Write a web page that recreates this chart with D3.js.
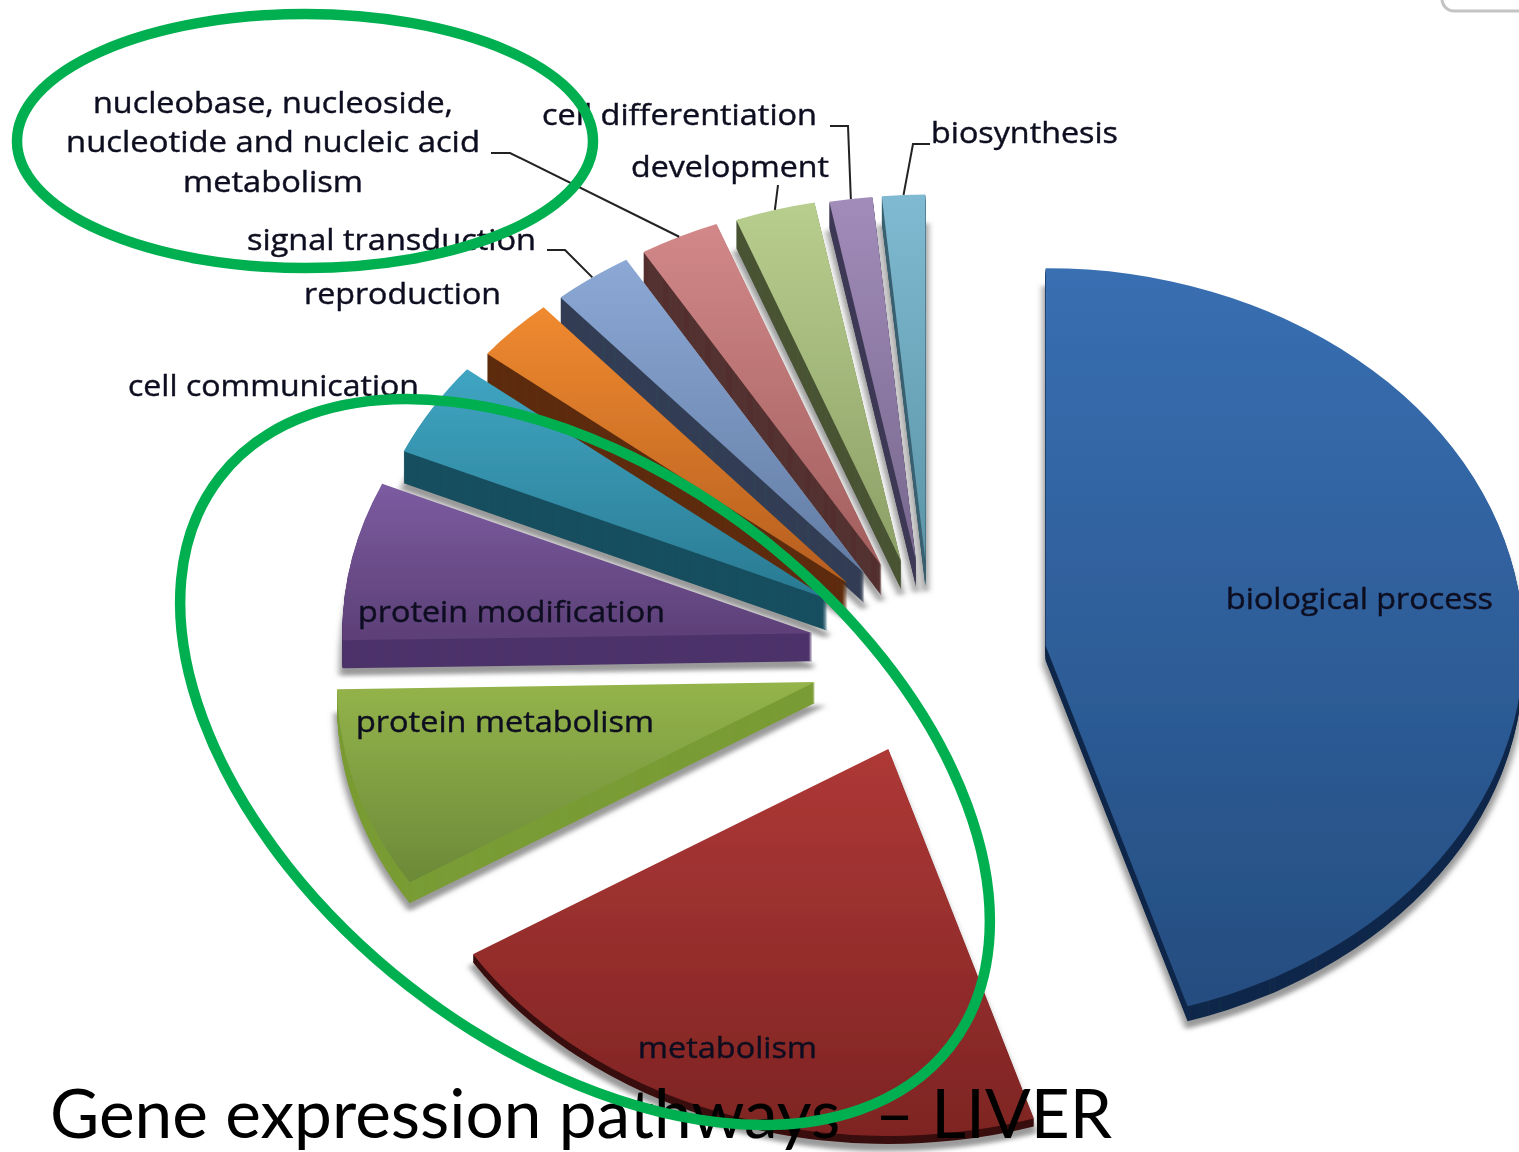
<!DOCTYPE html>
<html>
<head>
<meta charset="utf-8">
<script src="https://cdn.jsdelivr.net/npm/d3@7"></script>
<style>
  body { margin: 0; background: #fff; }
  svg { display: block; }
</style>
</head>
<body>
<svg id="chart"></svg>
<script>
// Values (share of the pie, %)
const categories = [
  "biological process", "metabolism", "protein metabolism", "protein modification",
  "cell communication", "reproduction", "signal transduction",
  "nucleobase, nucleoside, nucleotide and nucleic acid metabolism",
  "development", "cell differentiation", "biosynthesis"
];
const shares = [45.2, 20.9, 8.6, 6.9, 4.2, 2.8, 2.8, 2.8, 2.8, 1.5, 1.5];

// Colours: top of the face, bottom of the face, side wall
const topColors = ["#386fb2", "#ae3836", "#94b44b", "#7c5ca1", "#3fa5c2", "#f08a30", "#8ca8d5", "#d28888", "#b8ce8e", "#a28cba", "#7fbad2"];
const bottomColors = ["#254d80", "#7e2423", "#6c8938", "#5c3f76", "#2a7a92", "#b55e1f", "#627ca4", "#a25e5e", "#8c9f66", "#77678d", "#5c95a7"];
const sideColors = ["#12294a", "#3a0d0c", "#7a9c35", "#4d326a", "#174f5f", "#5e2d0c", "#333f55", "#553030", "#4a5535", "#3f3a55", "#3a6070"];

// 3D look of each slice: wall height, radius and a small shift (the original has perspective)
const depths = [15, 8, 21, 28, 32, 30, 30, 30, 28, 26, 26];
const radii = [478, 490, 478, 470, 463, 463, 463, 463, 463, 463, 463];
const shifts = [[-3, 0], [0, 0], [0, -5], [0, -8], [0, -12], [4, -11], [5, -10], [4, -9], [4, -7], [3, -5], [1, -5]];

const W = 1519, H = 1152;
const cx = 930, cy = 660;
const tilt = 0.79, explode = 120;

const svg = d3.select("#chart").attr("width", W).attr("height", H);
const defs = svg.append("defs");

defs.append("filter").attr("id", "soft")
  .attr("x", "-5%").attr("y", "-5%").attr("width", "110%").attr("height", "110%")
  .append("feGaussianBlur").attr("stdDeviation", 0.7);
defs.append("filter").attr("id", "shadow")
  .attr("x", "-20%").attr("y", "-20%").attr("width", "140%").attr("height", "140%")
  .append("feGaussianBlur").attr("stdDeviation", 3);

const pie = d3.pie().sort(null).value(d => d)
  .startAngle(0).endAngle(2 * Math.PI);
const arcs = pie(shares);
const arc = d3.arc().innerRadius(0);

// centre of a slice after pulling it out along its bisector
function sliceOrigin(i) {
  const d = arcs[i], a = (d.startAngle + d.endAngle) / 2;
  return [
    cx + explode * Math.sin(a) + shifts[i][0],
    cy - explode * Math.cos(a) * tilt + shifts[i][1]
  ];
}
// point on the outer rim in the middle of a slice, for leader lines
function rimPoint(i) {
  const d = arcs[i], o = sliceOrigin(i), a = (d.startAngle + d.endAngle) / 2;
  return [o[0] + radii[i] * Math.sin(a), o[1] - radii[i] * Math.cos(a) * tilt];
}

arcs.forEach((d, i) => {
  const g = defs.append("linearGradient").attr("id", "grad" + i)
    .attr("x1", 0).attr("y1", 0).attr("x2", 0).attr("y2", 1);
  g.append("stop").attr("offset", "0%").attr("stop-color", topColors[i]);
  g.append("stop").attr("offset", "100%").attr("stop-color", bottomColors[i]);
});

const pieLayer = svg.append("g").attr("filter", "url(#soft)");

// draw from the last slice back to the first so the fan stacks like the original
d3.range(arcs.length - 1, -1, -1).forEach(i => {
  const d = arcs[i], o = sliceOrigin(i), depth = depths[i];
  const path = arc.outerRadius(radii[i])(d);

  // soft grey shadow under the wall
  pieLayer.append("path")
    .attr("d", path)
    .attr("transform", `translate(${o[0]},${o[1] + depth + 5}) scale(1,${tilt})`)
    .attr("fill", "#9a9a9a")
    .attr("stroke", "#9a9a9a")
    .attr("stroke-width", 6)
    .attr("filter", "url(#shadow)");

  // side wall: the face repeated downwards
  d3.range(depth, 0, -1).forEach(step => {
    pieLayer.append("path")
      .attr("d", path)
      .attr("transform", `translate(${o[0]},${o[1] + step}) scale(1,${tilt})`)
      .attr("fill", sideColors[i]);
  });

  // top face
  pieLayer.append("path")
    .attr("class", "slice")
    .attr("d", path)
    .attr("transform", `translate(${o[0]},${o[1]}) scale(1,${tilt})`)
    .attr("fill", `url(#grad${i})`);
});

// Labels: text, x, baseline, width on the page
const labelLines = [
  ["nucleobase, nucleoside,", 93, 113, 360],
  ["nucleotide  and nucleic  acid", 66, 152, 414],
  ["metabolism", 183, 192, 180],
  ["cell differentiation", 542, 125, 275],
  ["development", 631, 177, 198],
  ["biosynthesis", 931, 143, 187],
  ["signal transduction", 247, 250, 289],
  ["reproduction", 304, 304, 197],
  ["cell communication", 128, 396, 291],
  ["protein modification", 358, 622, 307],
  ["protein metabolism", 356, 732, 298],
  ["metabolism", 638, 1058, 179],
  ["biological process", 1226, 609, 267]
];
const labelLayer = svg.append("g").attr("filter", "url(#soft)");
labelLayer.selectAll("text")
  .data(labelLines)
  .enter()
  .append("text")
    .attr("x", d => d[1])
    .attr("y", d => d[2])
    .attr("textLength", d => d[3])
    .attr("lengthAdjust", "spacingAndGlyphs")
    .style("font-family", "'Open Sans', sans-serif")
    .style("font-size", "29px")
    .style("fill", "#0c0c20")
    .style("stroke", "#0c0c20")
    .style("stroke-width", 0.4)
    .text(d => d[0]);

// Leader lines: elbow on the label side, then to the rim of the slice
const leaders = [
  { slice: 7, from: [[491, 153], [510, 153]] },
  { slice: 9, from: [[830, 126], [848, 126]] },
  { slice: 10, from: [[930, 144], [913, 144]] },
  { slice: 6, from: [[547, 250], [565, 250]] },
  { slice: 8, from: [[778, 185]] }
];
const line = d3.line();
labelLayer.selectAll("path.leader")
  .data(leaders)
  .enter()
  .append("path")
    .attr("class", "leader")
    .attr("d", d => line(d.from.concat([rimPoint(d.slice)])))
    .attr("fill", "none")
    .attr("stroke", "#222")
    .attr("stroke-width", 2);

// Slide title
svg.append("text")
  .attr("x", 50)
  .attr("y", 1138)
  .attr("textLength", 1062)
  .attr("lengthAdjust", "spacingAndGlyphs")
  .style("font-family", "Lato, sans-serif")
  .style("font-size", "67px")
  .style("fill", "#000")
  .style("white-space", "pre")
  .text("Gene expression pathways  \u2013 LIVER");

// Green hand-drawn emphasis rings
const rings = [
  { x: 305, y: 141, rx: 288, ry: 127, rot: 0 },
  { x: 585, y: 762, rx: 463, ry: 285, rot: 38 }
];
svg.selectAll("ellipse.ring")
  .data(rings)
  .enter()
  .append("ellipse")
    .attr("class", "ring")
    .attr("cx", d => d.x)
    .attr("cy", d => d.y)
    .attr("rx", d => d.rx)
    .attr("ry", d => d.ry)
    .attr("transform", d => `rotate(${d.rot},${d.x},${d.y})`)
    .attr("fill", "none")
    .attr("stroke", "#00b050")
    .attr("stroke-width", 10.5);

// corner of the next slide element, cut off by the page edge
svg.append("rect")
  .attr("x", 1442).attr("y", -24)
  .attr("width", 120).attr("height", 35)
  .attr("rx", 12)
  .attr("fill", "#fff")
  .attr("stroke", "#c4c4c4")
  .attr("stroke-width", 3);
</script>
</body>
</html>
